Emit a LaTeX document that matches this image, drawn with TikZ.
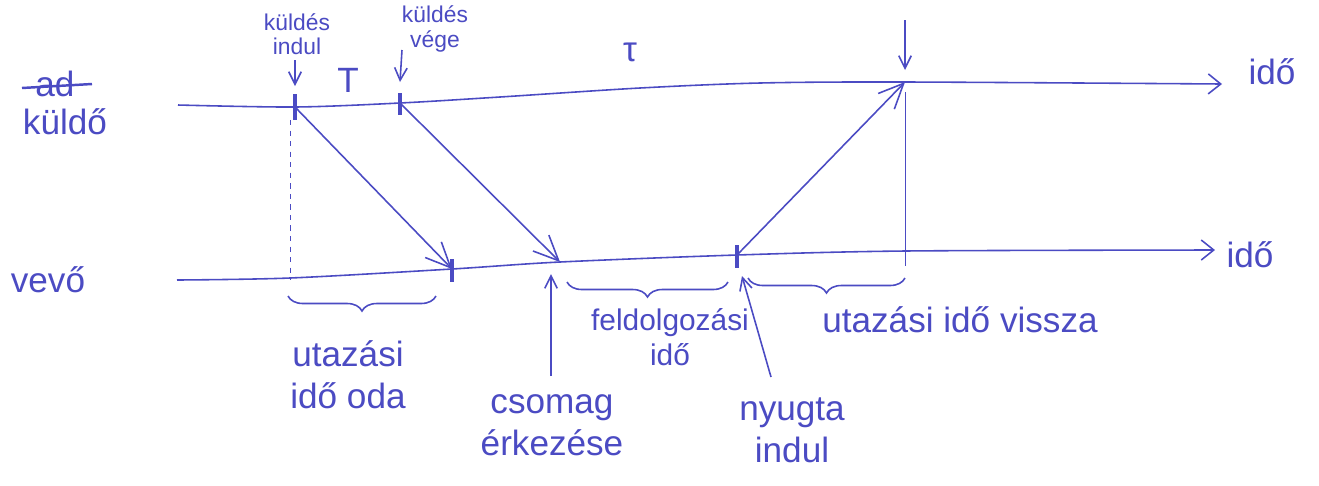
\documentclass[tikz,border=0pt]{standalone}
\usepackage{fontspec}
\setmainfont{Liberation Sans}
\usetikzlibrary{arrows.meta,decorations.pathreplacing}
\definecolor{ink}{RGB}{75,75,195}
\begin{document}
\begin{tikzpicture}[x=0.02cm,y=-0.02cm,
  every node/.style={text=ink, inner sep=1pt},
  big/.style={font=\fontsize{20}{24}\selectfont, align=center},
  mid/.style={font=\fontsize{17}{20}\selectfont, align=center},
  small/.style={font=\fontsize{13}{14}\selectfont, align=center},
  axis/.style={draw=ink, line width=0.9pt, -{Straight Barb[length=2.5mm,width=4mm]}},
  msg/.style={draw=ink, line width=0.9pt, -{Straight Barb[length=5mm,width=4.5mm]}},
  ptr/.style={draw=ink, line width=0.9pt, -{Straight Barb[length=2.5mm,width=2.5mm]}},
  tickmark/.style={draw=ink, line width=1.8pt},
  guide/.style={draw=ink, line width=0.5pt},
  brc/.style={draw=ink, line width=0.9pt, decorate, decoration={brace, mirror, amplitude=3mm}}]
\useasboundingbox (0,0) rectangle (1319,485);
\fill[white] (0,0) rectangle (1319,485);

% event points
\coordinate (s1) at (295,107);
\coordinate (s2) at (400,103);
\coordinate (s3) at (905,82);
\coordinate (r1) at (452,269);
\coordinate (r2) at (560,262);
\coordinate (r3) at (737,255);

% time axes
\draw[axis] plot[smooth, tension=0.5] coordinates {(178,105) (295,107) (400,103) (500,97) (640,88) (760,83) (905,82) (1222,84)};
\draw[axis] plot[smooth, tension=0.5] coordinates {(177,280) (290,278) (452,269) (560,262) (737,255) (905,251) (1215,250)};

% ticks
\draw[tickmark] (295,94) -- (295,120);
\draw[tickmark] (400,93) -- (400,115);
\draw[tickmark] (452,259) -- (452,282);
\draw[tickmark] (737,245) -- (737,268);

% guides
\draw[guide, dashed] (290,120) -- (290,280);
\draw[guide] (905,92) -- (905,266);

% messages
\draw[msg] (s1) -- (r1);
\draw[msg] (s2) -- (r2);
\draw[msg] (r3) -- (s3);

% axis labels
\node[big] (ad) at (55,84) {ad};
\draw[draw=ink, line width=1.4pt] (22,88) -- (92,84);
\node[big] (kuldo) at (65,122) {küldő};
\node[big] (vevo) at (48,280) {vevő};
\node[big] (ido1) at (1272,72) {idő};
\node[big] (ido2) at (1250,255) {idő};

% top labels
\node[small] (kind) at (297,34) {küldés\\indul};
\node[small] (kveg) at (435,29) {küldés\\vége};
\node[big] (T) at (348,80) {T};
\node[big] (tau) at (630,52) {τ};
\coordinate (p1) at (295,60);
\coordinate (p2) at (402,50);
\coordinate (p3) at (905,20);
\draw[ptr] (p1) -- (295,86);
\draw[ptr] (p2) -- (400,82);
\draw[ptr] (p3) -- (905,70);

% braces
\draw[brc] (288,296) -- (436,296);
\draw[brc] (567,282) -- (728,282);
\draw[brc] (748,278) -- (905,278);

% bottom labels
\node[big] (uoda) at (348,375) {utazási\\idő oda};
\node[big] (csom) at (552,425) {csomag\\érkezése};
\node[mid] (feld) at (670,337) {feldolgozási\\idő};
\node[big] (nyug) at (792,430) {nyugta\\indul};
\node[big] (uvis) at (960,320) {utazási idő vissza};

\draw[ptr] (551,376) -- (551,274);
\draw[ptr] (771,377) -- (742,276);
\end{tikzpicture}
\end{document}
